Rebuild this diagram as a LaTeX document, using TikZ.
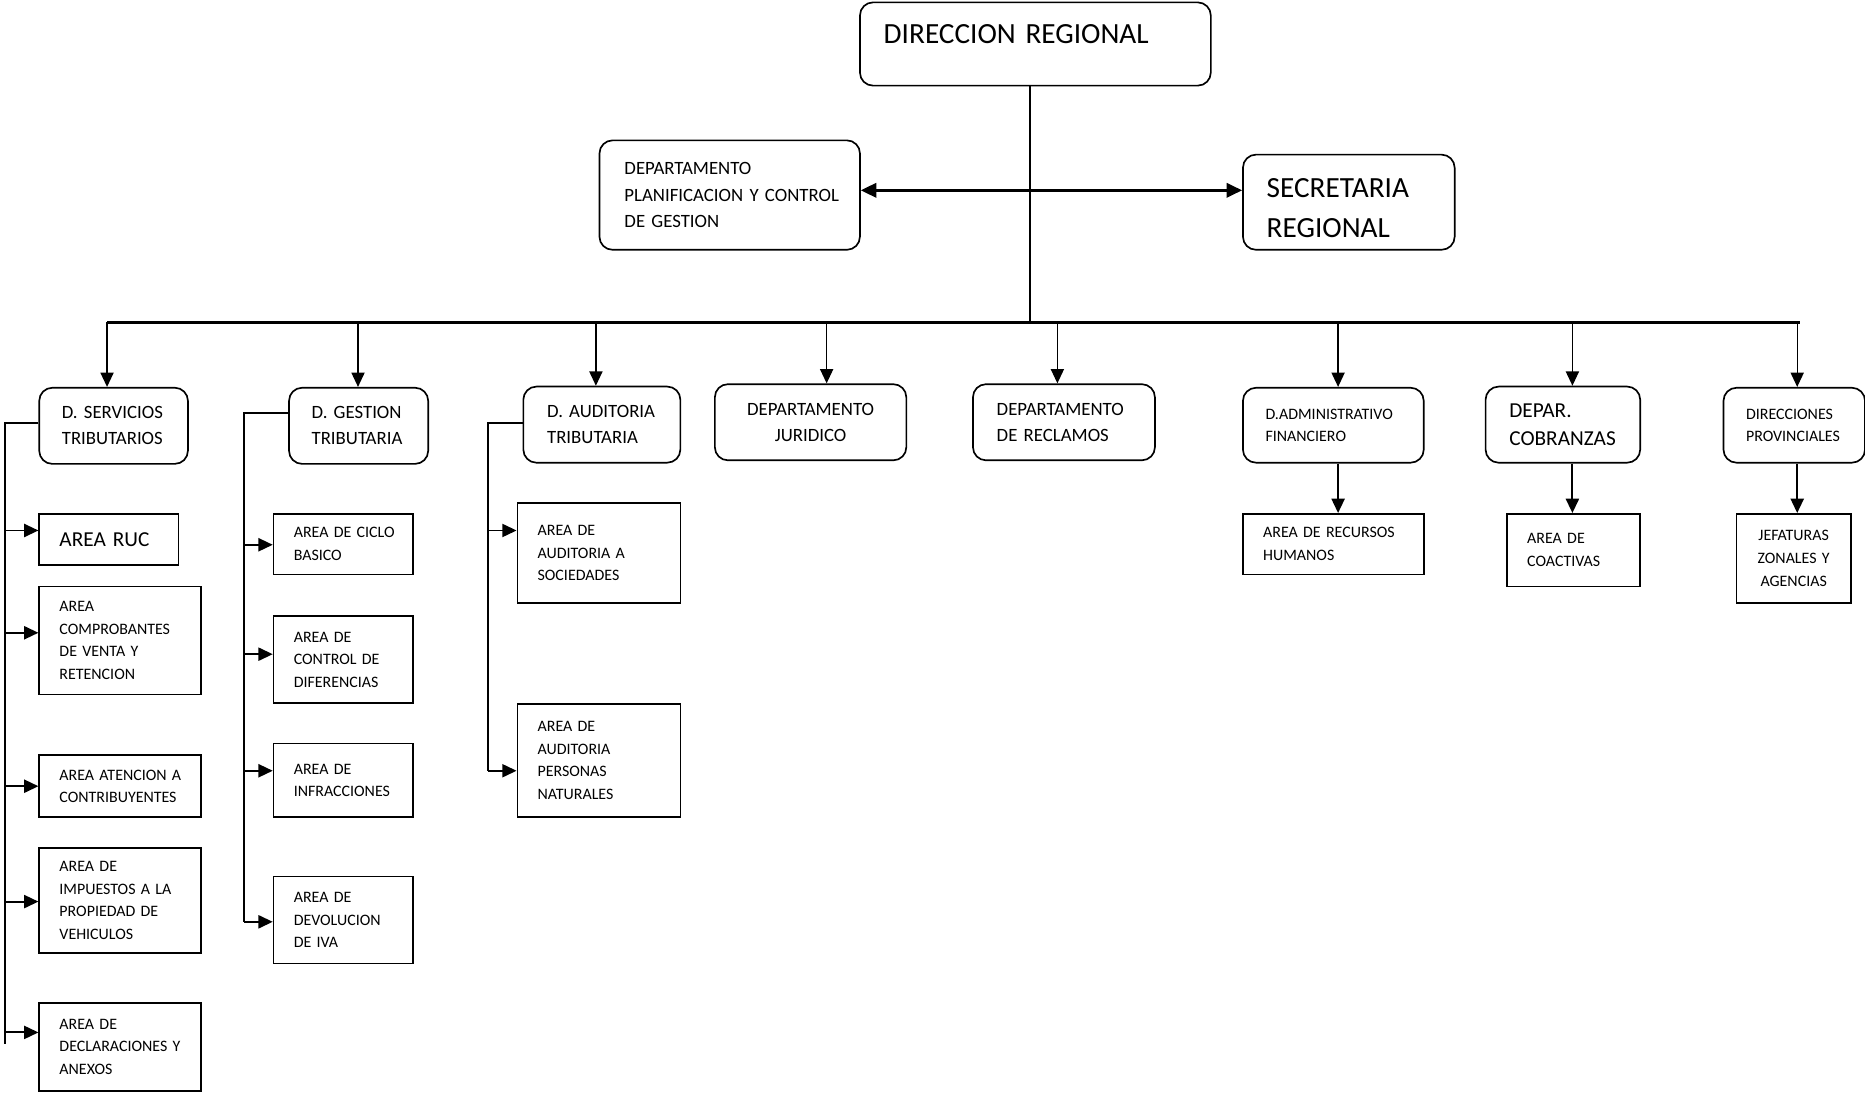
\documentclass[tikz,border=0pt]{standalone}
\usepackage{fontspec}
\setmainfont{Carlito}
\usetikzlibrary{arrows.meta,positioning}
\hyphenpenalty=10000
\exhyphenpenalty=10000
\frenchspacing

\begin{document}
\begin{tikzpicture}[
    x=1pt, y=-1pt,
    box/.style={draw, line width=1.4pt, align=left, inner ysep=0pt},
    dept/.style={box, rounded corners=11pt},
    area/.style={box},
    bigtext/.style={font=\fontsize{24.6}{34}\selectfont},
    midtext/.style={font=\fontsize{15.8}{22}\selectfont},
    smalltext/.style={font=\fontsize{13.4}{19}\selectfont},
    ructext/.style={font=\fontsize{17.9}{24}\selectfont},
    headtip/.style={-{Triangle[length=12pt,width=11pt]}},
    drop/.style={headtip, line width=1.2pt},
    link/.style={headtip, line width=1.6pt},
    branch/.style={line width=1.6pt},
    twoway/.style={{Triangle[length=13pt,width=12pt]}-{Triangle[length=13pt,width=12pt]}, line width=2.2pt}
]
    \path[use as bounding box, fill=white] (0,0) rectangle (1568,919);

    \node[dept, bigtext, text width=255pt, inner xsep=20pt, minimum height=70pt, text depth=16pt] (dir) at (870.5,37) {DIRECCION REGIONAL};
    \node[dept, midtext, text width=177pt, inner xsep=21pt, minimum height=92pt] (plan) at (613.5,164) {DEPARTAMENTO\\PLANIFICACION~Y~CONTROL\\DE~GESTION};
    \node[dept, bigtext, text width=138pt, inner xsep=20pt, minimum height=80pt, text height=25.8pt] (sec) at (1134,170) {SECRETARIA\\REGIONAL};

    \coordinate (bus) at (866,271);
    \coordinate (mid) at (866,160);
    \draw[line width=1.3pt] (dir.south -| bus) -- (bus);
    \draw[twoway] (plan.east |- mid) -- (sec.west |- mid);
    \draw[line width=2pt] (bus -| 90,0) -- (bus -| 1513,0);

    \node[dept, midtext, text width=87pt, inner xsep=19pt, minimum height=64pt] (srv) at (95.5,358) {D.~SERVICIOS\\TRIBUTARIOS};
    \node[dept, midtext, text width=79pt, inner xsep=19pt, minimum height=64pt] (ges) at (301.5,358) {D.~GESTION\\TRIBUTARIA};
    \node[dept, midtext, text width=92pt, inner xsep=20pt, minimum height=64pt] (aud) at (506,357) {D.~AUDITORIA\\TRIBUTARIA};
    \node[dept, midtext, align=center, text width=121pt, inner xsep=20pt, minimum height=64pt] (jur) at (681.5,355) {DEPARTAMENTO\\JURIDICO};
    \node[dept, midtext, text width=113pt, inner xsep=20pt, minimum height=64pt] (rec) at (894.5,355) {DEPARTAMENTO\\DE~RECLAMOS};
    \node[dept, smalltext, text width=114pt, inner xsep=19pt, minimum height=63pt] (adm) at (1121,357.5) {D.ADMINISTRATIVO\\FINANCIERO};
    \node[dept, ructext, text width=90pt, inner xsep=20pt, minimum height=64pt] (cob) at (1314,357) {DEPAR.\\COBRANZAS};
    \node[dept, smalltext, text width=81pt, inner xsep=19pt, minimum height=63pt] (prov) at (1508.5,357.5) {DIRECCIONES\\PROVINCIALES};

    \foreach \n/\x in {srv/90, ges/301, aud/501, jur/695, rec/889, adm/1125, cob/1322, prov/1511}
        \draw[drop] (bus -| \x,0) -- (\n.north -| \x,0);

    \node[area, ructext, text width=83pt, inner xsep=17pt, minimum height=43pt] (ruc) at (91.5,453.5) {AREA~RUC};
    \node[area, smalltext, text width=102pt, inner xsep=17pt, minimum height=91pt] (comp) at (101,538.5) {AREA\\COMPROBANTES\\DE~VENTA~Y\\RETENCION};
    \node[area, smalltext, text width=102pt, inner xsep=17pt, minimum height=52pt] (aten) at (101,661) {AREA~ATENCION~A\\CONTRIBUYENTES};
    \node[area, smalltext, text width=102pt, inner xsep=17pt, minimum height=88pt] (imp) at (101,757) {AREA~DE\\IMPUESTOS~A~LA\\PROPIEDAD~DE\\VEHICULOS};
    \node[area, smalltext, text width=102pt, inner xsep=17pt, minimum height=74pt] (decl) at (101,880) {AREA~DE\\DECLARACIONES~Y\\ANEXOS};

    \node[area, smalltext, text width=83pt, inner xsep=17pt, minimum height=51pt] (ciclo) at (288.5,457.5) {AREA~DE~CICLO\\BASICO};
    \node[area, smalltext, text width=83pt, inner xsep=17pt, minimum height=73pt] (ctrl) at (288.5,554.5) {AREA~DE\\CONTROL~DE\\DIFERENCIAS};
    \node[area, smalltext, text width=83pt, inner xsep=17pt, minimum height=62pt] (inf) at (288.5,656) {AREA~DE\\INFRACCIONES};
    \node[area, smalltext, text width=83pt, inner xsep=17pt, minimum height=73pt] (dev) at (288.5,773.5) {AREA~DE\\DEVOLUCION\\DE~IVA};

    \node[area, smalltext, text width=103pt, inner xsep=17pt, minimum height=84pt] (soc) at (503.5,465) {AREA~DE\\AUDITORIA~A\\SOCIEDADES};
    \node[area, smalltext, text width=103pt, inner xsep=17pt, minimum height=95pt] (nat) at (503.5,639.5) {AREA~DE\\AUDITORIA\\PERSONAS\\NATURALES};

    \node[area, smalltext, text width=118pt, inner xsep=17pt, minimum height=51pt] (rrhh) at (1121,457.5) {AREA~DE~RECURSOS\\HUMANOS};
    \node[area, smalltext, text width=78pt, inner xsep=17pt, minimum height=61pt] (coac) at (1323,462.5) {AREA~DE\\COACTIVAS};
    \node[area, smalltext, align=center, text width=76pt, inner xsep=10pt, minimum height=75pt] (jef) at (1508,469.5) {JEFATURAS\\ZONALES~Y\\AGENCIAS};

    \coordinate (srvbar) at (4,878);
    \coordinate (gesbar) at (205,775);
    \coordinate (audbar) at (410,648);
    \draw[branch] (srv.west |- 0,356) -| (srvbar);
    \draw[branch] (ges.west |- 0,347) -| (gesbar);
    \draw[branch] (aud.west |- 0,356) -| (audbar);
    \foreach \n/\y in {ruc/446, comp/532, aten/661, imp/758, decl/868}
        \draw[link] (srvbar |- 0,\y) -- (\n.west |- 0,\y);
    \foreach \n/\y in {ciclo/458, ctrl/550, inf/648, dev/775}
        \draw[link] (gesbar |- 0,\y) -- (\n.west |- 0,\y);
    \foreach \n/\y in {soc/446, nat/648}
        \draw[link] (audbar |- 0,\y) -- (\n.west |- 0,\y);

    \foreach \a/\b/\x in {adm/rrhh/1125, cob/coac/1322, prov/jef/1511}
        \draw[link] (\a.south -| \x,0) -- (\b.north -| \x,0);
\end{tikzpicture}
\end{document}
